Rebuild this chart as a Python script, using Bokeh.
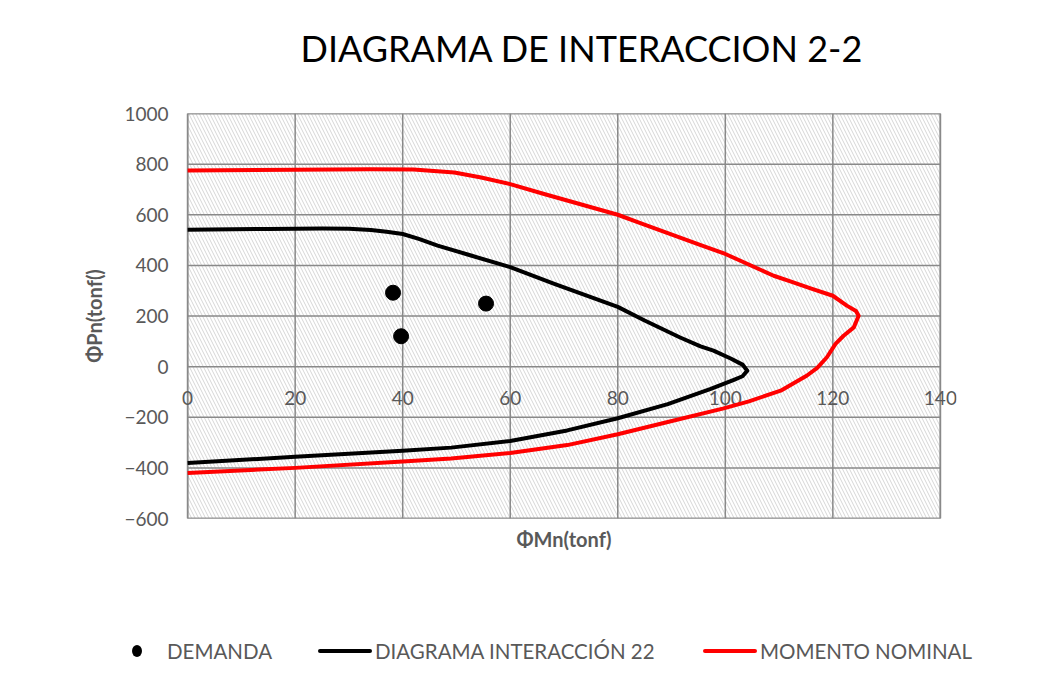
from bokeh.plotting import figure
from bokeh.layouts import column
from bokeh.models import FixedTicker, Range1d, Div
from bokeh.core.properties import value
from bokeh.embed import file_html
from bokeh.resources import INLINE

# ---------------- data ----------------
demand_m = [38.2, 39.7, 55.5]
demand_p = [292, 120, 249]

diag_m = [0, 15, 25, 30, 34.1, 37, 40, 43, 46.5, 52.7, 60, 68.2, 80, 84.9, 91.6,
          95.4, 97.8, 101, 103.2, 104.1, 103.2, 101.6, 97.3, 89.3, 80, 70.6, 60,
          49, 40, 20, 0]
diag_p = [541, 544, 546, 545, 540, 533, 524, 505, 478, 439, 393, 327, 236, 183, 115,
          80, 63, 32, 8, -16, -38, -52, -88, -148, -204, -252, -294,
          -320, -332, -356, -381]

nom_m = [0, 20, 34, 42, 49.6, 54.6, 60, 66.3, 80, 84.2, 95.3, 100, 109, 112.1, 116,
         120, 122.6, 124.3, 124.8, 123.9, 122, 120.5, 118.9, 117.1, 115.2, 110.3,
         104.4, 99.7, 89.3, 80, 70.6, 60, 49, 40, 20, 0]
nom_p = [775, 778, 780, 779, 767, 747, 721, 682, 600, 567, 481, 445, 359, 337, 308,
         280, 241, 220, 201, 155, 122, 90, 37, -5, -35, -95,
         -137, -165, -219, -267, -310, -341, -363, -375, -400, -420]

x_ticks = [0, 20, 40, 60, 80, 100, 120, 140]
x_tick_labels = ["0", "20", "40", "60", "80", "100", "120", "140"]
y_ticks = [-600, -400, -200, 0, 200, 400, 600, 800, 1000]

title_text = "DIAGRAMA DE INTERACCION 2-2"
x_title = "ΦMn(tonf)"
y_title = "ΦPn(tonf()"
legend_labels = ["DEMANDA", "DIAGRAMA INTERACCIÓN 22", "MOMENTO NOMINAL"]
legend_colors = ["black", "black", "#ff0000"]

FONT = "Lato"
GRAY_TXT = "#595959"
GRID = "#898989"

x_lo, x_hi = x_ticks[0], x_ticks[-1]
y_lo, y_hi = y_ticks[0], y_ticks[-1]

# ---------------- main chart ----------------
# frame a little wider than the plot area so the end tick labels are not clipped
p = figure(width=1050, height=570, output_backend="svg", toolbar_location=None,
           x_range=Range1d(x_lo - 3, x_hi + 3), y_range=Range1d(y_lo, y_hi),
           min_border_left=171, min_border_right=94, min_border_top=113,
           min_border_bottom=52)
p.background_fill_color = "white"
p.border_fill_color = "white"
p.outline_line_color = None
p.grid.visible = False

# title (trailing blank line lifts the text inside its panel)
p.title.text = title_text + "\n"
p.title.align = "left"
p.title.offset = 129
p.title.text_font = FONT
p.title.text_font_size = "36px"
p.title.text_font_style = "normal"
p.title.text_color = "black"
p.title.standoff = 0

# hatched plot area with border
p.quad(left=[x_lo], right=[x_hi], bottom=[y_lo], top=[y_hi], fill_color="white",
       line_color=GRID, line_width=1.5, hatch_pattern="\\", hatch_color="#d6d6d6",
       hatch_scale=7, hatch_weight=1, level="underlay")

# grid lines limited to the plot area
p.segment(x0=x_ticks, y0=[y_lo] * len(x_ticks), x1=x_ticks, y1=[y_hi] * len(x_ticks),
          line_color=GRID, line_width=1.5, level="underlay")
p.segment(x0=[x_lo] * len(y_ticks), y0=y_ticks, x1=[x_hi] * len(y_ticks), y1=y_ticks,
          line_color=GRID, line_width=1.5, level="underlay")

# y axis
ya = p.yaxis[0]
ya.ticker = FixedTicker(ticks=y_ticks)
ya.axis_line_color = None
ya.major_tick_line_color = None
ya.minor_tick_line_color = None
ya.major_tick_out = 0
ya.major_tick_in = 0
ya.major_label_text_font = FONT
ya.major_label_text_font_size = "19px"
ya.major_label_text_color = GRAY_TXT
ya.major_label_standoff = 3
ya.axis_label = y_title
ya.axis_label_text_font = FONT
ya.axis_label_text_font_size = "20px"
ya.axis_label_text_font_style = "bold"
ya.axis_label_text_color = GRAY_TXT
ya.axis_label_standoff = 15

# x axis: title only at the bottom
xa = p.xaxis[0]
xa.ticker = FixedTicker(ticks=[])
xa.axis_line_color = None
xa.major_tick_line_color = None
xa.minor_tick_line_color = None
xa.axis_label = x_title
xa.axis_label_text_font = FONT
xa.axis_label_text_font_size = "20px"
xa.axis_label_text_font_style = "bold"
xa.axis_label_text_color = GRAY_TXT
xa.axis_label_standoff = 8

# x tick labels where the axis crosses P = 0
p.text(x=x_ticks, y=[-122] * len(x_ticks), text=x_tick_labels, text_align="center",
       text_baseline="middle", text_font=value(FONT), text_font_size="19px",
       text_color=GRAY_TXT)

# series
p.line(diag_m, diag_p, line_color="black", line_width=4, line_join="round")
p.line(nom_m, nom_p, line_color="#ff0000", line_width=4, line_join="round")
p.scatter(demand_m, demand_p, size=15, fill_color="black", line_color="black")

# ---------------- legend strip ----------------
marker_left = [132, 318, 703]     # layout positions of the legend keys (px)
text_left = [167, 375, 760]
row_mid = 81
parts = []
for i, lab in enumerate(legend_labels):
    if i == 0:
        parts.append(
            f'<span style="position:absolute;left:{marker_left[i]}px;top:{row_mid - 6}px;'
            f'width:10px;height:12px;border-radius:50%;background:{legend_colors[i]};"></span>')
    else:
        parts.append(
            f'<span style="position:absolute;left:{marker_left[i]}px;top:{row_mid - 2}px;'
            f'width:54px;height:4px;border-radius:2px;background:{legend_colors[i]};"></span>')
    parts.append(
        f'<span style="position:absolute;left:{text_left[i]}px;top:{row_mid - 13}px;'
        f'line-height:26px;white-space:nowrap;font-family:{FONT};font-size:20.5px;'
        f'color:{GRAY_TXT};">{lab}</span>')
legend_html = ('<div style="position:relative;width:1050px;height:106px;">'
               + "".join(parts) + "</div>")
lg = Div(text=legend_html, width=1050, height=106, margin=0)

page = column(p, lg, spacing=0)
open("out.html", "w").write(file_html(page, INLINE))
